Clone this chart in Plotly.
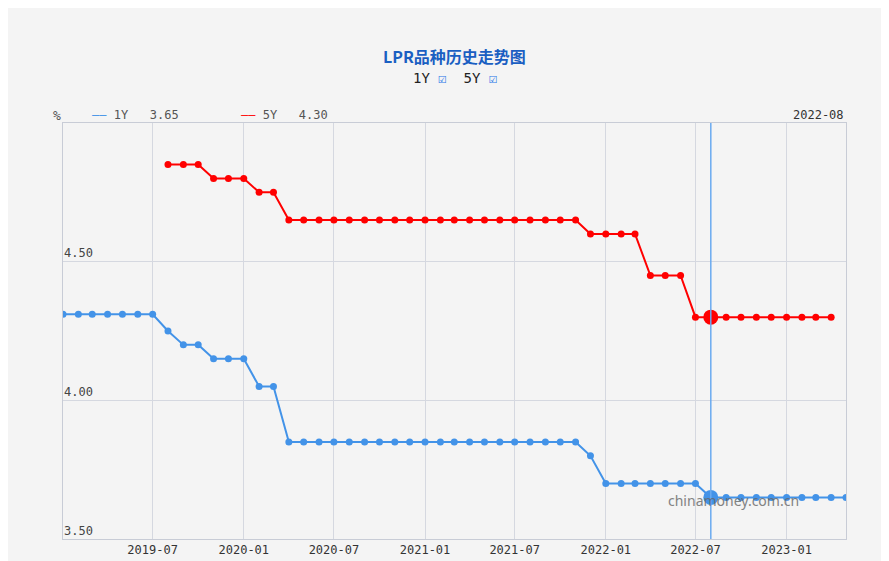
import pandas as pd
import plotly.graph_objects as go

months = pd.date_range("2019-01-01", "2023-05-01", freq="MS")

lpr_1y = ([4.31] * 7 + [4.25, 4.20, 4.20, 4.15, 4.15, 4.15, 4.05, 4.05]
          + [3.85] * 20 + [3.80] + [3.70] * 7 + [3.65] * 10)
lpr_5y = ([None] * 7 + [4.85, 4.85, 4.85, 4.80, 4.80, 4.80, 4.75, 4.75]
          + [4.65] * 20 + [4.60] * 4 + [4.45] * 3 + [4.30] * 10)

hover_month = "2022-08-01"
blue = "#4393e8"
red = "#ff0000"
mono = "DejaVu Sans Mono"

fig = go.Figure()
fig.add_trace(go.Scatter(x=months, y=lpr_1y, mode="lines+markers", name="1Y",
                         line=dict(color=blue, width=2), marker=dict(size=7)))
fig.add_trace(go.Scatter(x=months, y=lpr_5y, mode="lines+markers", name="5Y",
                         line=dict(color=red, width=2), marker=dict(size=7)))
# highlighted month
fig.add_trace(go.Scatter(x=[hover_month, hover_month], y=[3.65, 4.30], mode="markers",
                         marker=dict(size=15, color=[blue, red]), showlegend=False))
fig.add_vline(x=hover_month, line=dict(color="#6aaaf0", width=1.5))

fig.update_layout(
    width=889, height=561,
    paper_bgcolor="#f4f4f4", plot_bgcolor="#f4f4f4",
    margin=dict(l=55, r=51, t=115, b=30),
    showlegend=False,
    font=dict(family=mono, size=12, color="#333"),
    xaxis=dict(range=["2019-01-01", "2023-05-01"],
               tickvals=pd.date_range("2019-01-01", "2023-01-01", freq="6MS"),
               tickformat="%Y-%m", showgrid=True, gridcolor="#d5d8e0", zeroline=False,
               showline=True, linecolor="#c8ccd6", ticks="", mirror=True),
    yaxis=dict(range=[3.5, 5.0], tickvals=[3.5, 4.0, 4.5, 5.0], ticktext=["3.50", "4.00", "4.50", ""],
               showgrid=True, gridcolor="#d5d8e0", zeroline=False, showline=True,
               linecolor="#c8ccd6", mirror=True, ticklabelposition="inside top", ticks=""),
    annotations=[
        dict(text="<b>LPR品种历史走势图</b>", x=0.5, y=1.195, xref="paper", yref="paper",
             showarrow=False, font=dict(family="Noto Sans CJK SC", size=16, color="#1a5fc2")),
        dict(text="1Y <span style='color:#1a73e8'>☑</span>  5Y <span style='color:#1a73e8'>☑</span>",
             x=0.5, y=1.132, xref="paper", yref="paper", showarrow=False,
             font=dict(size=14, color="#222")),
        dict(text="%", x=0.0, y=1.04, xref="paper", yref="paper", showarrow=False,
             xanchor="right", font=dict(size=13, color="#555")),
        dict(text=f"<span style='color:{blue}'>——</span> 1Y   3.65", x=0.035, y=1.04,
             xref="paper", yref="paper", showarrow=False, xanchor="left", font=dict(size=12, color="#555")),
        dict(text=f"<span style='color:{red}'>——</span> 5Y   4.30", x=0.225, y=1.04,
             xref="paper", yref="paper", showarrow=False, xanchor="left", font=dict(size=12, color="#555")),
        dict(text="2022-08", x=1.0, y=1.04, xref="paper", yref="paper", showarrow=False,
             xanchor="right", font=dict(size=12, color="#333")),
        dict(text="chinamoney.com.cn", x="2022-09-15", y=3.64, xref="x", yref="y", showarrow=False,
             font=dict(family="Noto Sans", size=14, color="#666"), opacity=0.8),
    ],
)

fig.write_html("out.html")
